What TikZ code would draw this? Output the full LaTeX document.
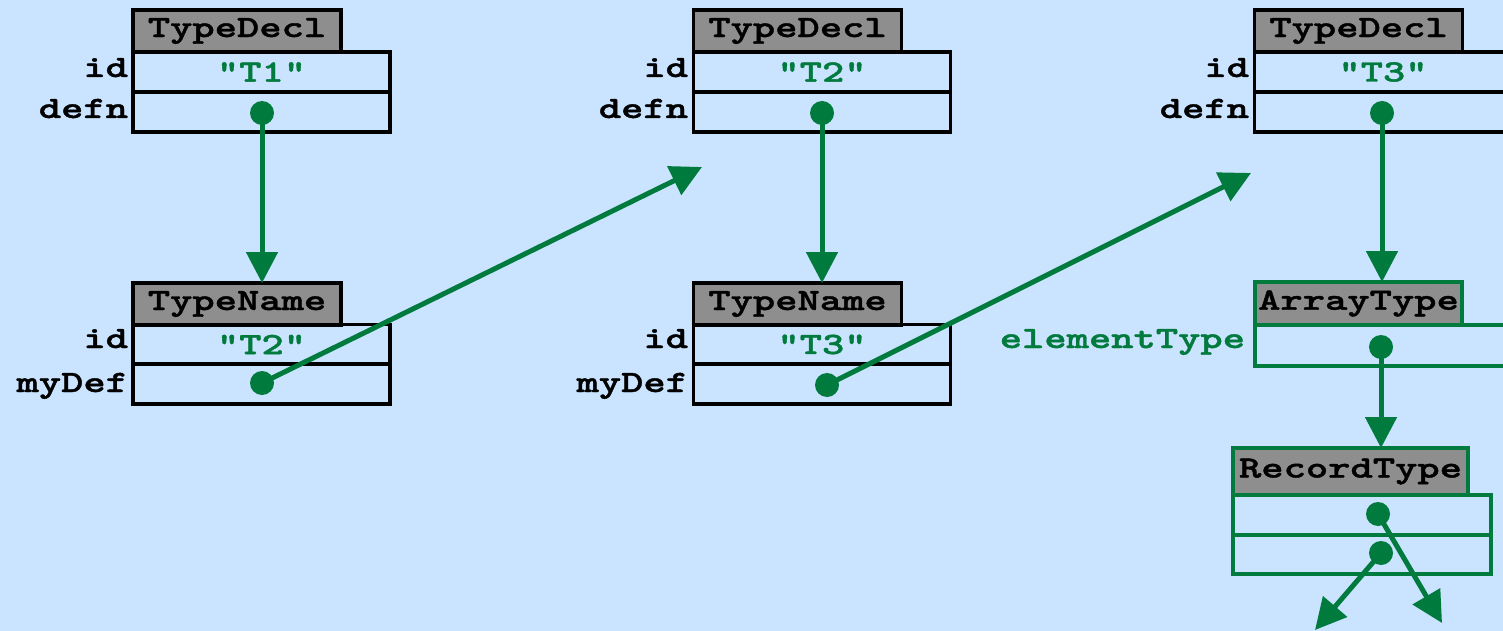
\documentclass[tikz,border=0pt]{standalone}
\usepackage{fontspec}
% bold slab-serif typewriter face, widened to a Courier-like set width
\newfontfamily\codefont{lmmonolt10-bold.otf}[FakeStretch=1.37, FakeBold=1.3]
\usetikzlibrary{arrows.meta}
\definecolor{bg}{RGB}{202,228,255}
\definecolor{ptrgreen}{RGB}{0,122,61}
\definecolor{hdrgray}{RGB}{142,142,142}

\begin{document}
\begin{tikzpicture}[x=1pt,y=-1pt,
  every node/.style={inner sep=0pt, outer sep=0pt},
  code/.style={font=\codefont\fontsize{31}{31}\selectfont},
  hdr/.style={code, draw=black, line width=3.5pt, fill=hdrgray, minimum width=208pt, minimum height=42pt},
  fld/.style={code, draw=black, line width=3.5pt, minimum width=257pt, minimum height=40pt, text=ptrgreen},
  gbox/.style={draw=ptrgreen, line width=3.3pt},
  lbl/.style={code, anchor=base east},
  dot/.style={circle, fill=ptrgreen, minimum size=24pt},
  ptr/.style={draw=ptrgreen, line width=5pt, -{Triangle[length=31pt,width=31pt]}},
]
% backdrop and page frame
\fill[bg] (0,0) rectangle (1503,631);
\clip (0,0) rectangle (1503,631);

% ---- TypeDecl "T1" and its TypeName
\node[hdr] (td1) at (237,31) {TypeDecl};
\node[fld] (td1id) at (261.5,72) {“T1”};
\node[fld] (td1df) at (261.5,112) {};
\node[lbl] (td1idl) at (128,77) {id};
\node[lbl] (td1dfl) at (128,118) {defn};
\node[hdr] (tn1) at (237,304) {TypeName};
\node[fld] (tn1id) at (261.5,344.5) {“T2”};
\node[fld] (tn1df) at (261.5,384) {};
\node[lbl] (tn1idl) at (128,348) {id};
\node[lbl] (tn1dfl) at (128,392) {myDef};

% ---- TypeDecl "T2" and its TypeName
\node[hdr] (td2) at (797.5,31) {TypeDecl};
\node[fld] (td2id) at (822,72) {“T2”};
\node[fld] (td2df) at (822,112) {};
\node[lbl] (td2idl) at (688,77) {id};
\node[lbl] (td2dfl) at (688,118) {defn};
\node[hdr] (tn2) at (797.5,304) {TypeName};
\node[fld] (tn2id) at (822,344.5) {“T3”};
\node[fld] (tn2df) at (822,384) {};
\node[lbl] (tn2idl) at (688,348) {id};
\node[lbl] (tn2dfl) at (688,392) {myDef};

% ---- TypeDecl "T3" with its array and record types
\node[hdr] (td3) at (1358.5,31) {TypeDecl};
\node[fld] (td3id) at (1383,72) {“T3”};
\node[fld] (td3df) at (1383,112) {};
\node[lbl] (td3idl) at (1249,77) {id};
\node[lbl] (td3dfl) at (1249,118) {defn};
\node[hdr, gbox, minimum width=207pt, minimum height=43pt] (at) at (1358.5,303.5) {ArrayType};
\node[fld, gbox, minimum height=41pt] (atel) at (1383.5,345.5) {};
\node[lbl, text=ptrgreen] (atell) at (1245,348) {elementType};
\node[hdr, gbox, minimum width=235pt, minimum height=47pt] (rt) at (1350.5,471.5) {RecordType};
\node[fld, gbox, minimum width=258pt] (rtf1) at (1362,515) {};
\node[fld, gbox, minimum width=258pt, minimum height=39pt] (rtf2) at (1362,554.5) {};

% pointer sources
\node[dot] (d1) at (262,113) {};
\node[dot] (m1) at (262,383) {};
\node[dot] (d2) at (822,113) {};
\node[dot] (m2) at (827,385) {};
\node[dot] (d3) at (1382,113) {};
\node[dot] (e3) at (1381,347) {};
\node[dot] (r1) at (1378,514) {};
\node[dot] (r2) at (1381,553) {};

% free pointer ends
\coordinate (to2) at (702,167);
\coordinate (to3) at (1251,173);
\coordinate (rtA) at (1442,623);
\coordinate (rtB) at (1315,630);

% pointers
\draw[ptr] (d1.center) -- (d1 |- tn1.north);
\draw[ptr] (m1.center) -- (to2);
\draw[ptr] (d2.center) -- (d2 |- tn2.north);
\draw[ptr] (m2.center) -- (to3);
\draw[ptr] (d3.center) -- (d3 |- at.north);
\draw[ptr] (e3.center) -- (e3 |- rt.north);
\draw[ptr] (r1.center) -- (rtA);
\draw[ptr] (r2.center) -- (rtB);
\end{tikzpicture}
\end{document}
